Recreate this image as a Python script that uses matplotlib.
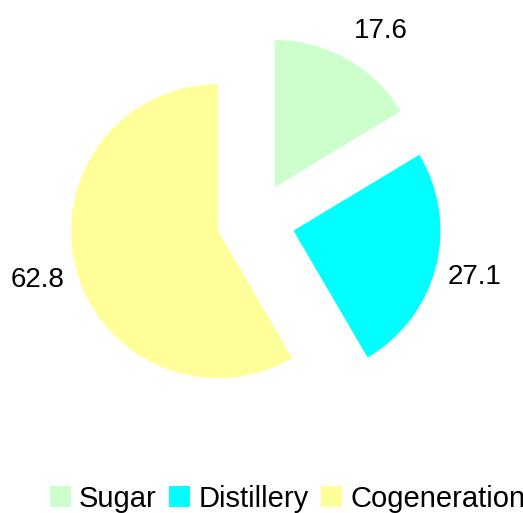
import matplotlib
matplotlib.use("Agg")
import matplotlib.pyplot as plt

categories = ["Sugar", "Distillery", "Cogeneration"]
values = [17.6, 27.1, 62.8]
colors = ["#CCFFCC", "#00FFFF", "#FFFF99"]

plt.rcParams['font.family'] = ['Liberation Sans', 'DejaVu Sans']

W, H = 523, 513
fig = plt.figure(figsize=(W / 100, H / 100), dpi=100)
ax = fig.add_axes([0, 0, 1, 1])
ax.set_axis_off()

total = sum(values)
R = 147.0
cx, cy = 255.7, 221.0

wedges, texts, autotexts = ax.pie(
    values, colors=colors, startangle=90, counterclock=False,
    explode=[0.265] * len(values), radius=1.0,
    autopct=lambda p: f"{p * total / 100:.1f}", pctdistance=1.27,
    textprops=dict(fontsize=20, color="black"),
    wedgeprops=dict(linewidth=0),
)
# small nudge of the first value label to match reference placement
x0, y0 = autotexts[0].get_position()
autotexts[0].set_position((x0 + 14 / R, y0 - 6 / R))

ax.set_xlim(-cx / R, (W - cx) / R)
ax.set_ylim(-(H - cy) / R, cy / R)
ax.set_aspect('auto')

leg = fig.legend(wedges, categories, loc="lower left",
                 bbox_to_anchor=(50 / W, 0 / H), ncol=3, frameon=False,
                 fontsize=21, handlelength=0.72, handleheight=0.72,
                 handletextpad=0.28, columnspacing=0.42, borderpad=0,
                 borderaxespad=0)

fig.savefig("out.png", dpi=100)
